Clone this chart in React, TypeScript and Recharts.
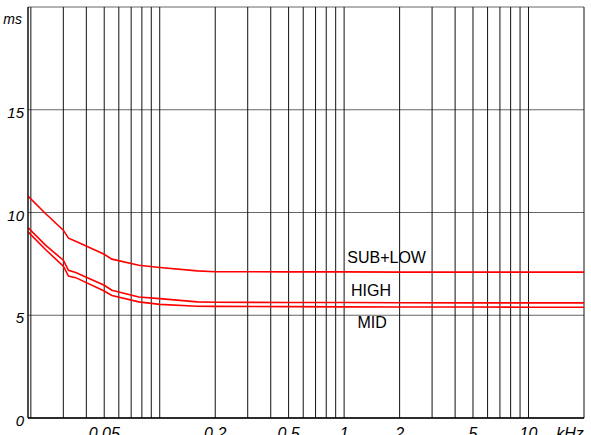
import { LineChart, Line, XAxis, YAxis, CartesianGrid, ReferenceDot } from 'recharts'

// frequency in kHz, delay in ms
const FREQ = [0.0193, 0.024, 0.03, 0.032, 0.035, 0.05, 0.055, 0.077, 0.1, 0.16, 0.2, 0.5, 1, 2, 5, 10, 20]
const SUB_LOW = [10.8, 9.95, 9.14, 8.75, 8.6, 7.97, 7.73, 7.43, 7.32, 7.16, 7.12, 7.11, 7.11, 7.1, 7.1, 7.1, 7.1]
const HIGH = [9.27, 8.41, 7.68, 7.19, 7.08, 6.46, 6.22, 5.89, 5.81, 5.65, 5.63, 5.62, 5.62, 5.61, 5.6, 5.6, 5.6]
const MID = [9.06, 8.2, 7.39, 6.91, 6.83, 6.18, 5.96, 5.65, 5.53, 5.44, 5.43, 5.42, 5.41, 5.4, 5.4, 5.39, 5.39]

const X_GRID = [
  0.02, 0.03, 0.04, 0.05, 0.06, 0.07, 0.08, 0.09,
  0.1, 0.2, 0.3, 0.4, 0.5, 0.6, 0.7, 0.8, 0.9,
  1, 2, 3, 4, 5, 6, 7, 8, 9,
  10, 20,
]
const X_LABELS: Record<string, string> = {
  '0.05': '0.05', '0.2': '0.2', '0.5': '0.5', '1': '1', '2': '2', '5': '5', '10': '10', '20': 'kHz',
}
const Y_TICKS = [0, 5, 10, 15, 20]
const Y_LABELS: Record<string, string> = { '0': '0', '5': '5', '10': '10', '15': '15', '20': 'ms' }

// curve names placed in the chart [label, kHz, ms]
const NAMES: [string, number, number][] = [
  ['SUB+LOW', 1.7, 7.53],
  ['HIGH', 1.4, 5.92],
  ['MID', 1.42, 4.37],
]

const data = FREQ.map((f, i) => ({ f, sub: SUB_LOW[i], high: HIGH[i], mid: MID[i] }))

const FONT = '"Liberation Sans", Arial, sans-serif'

function XTick({ x, y, payload }: any) {
  const label = X_LABELS[String(payload.value)]
  if (!label) return null
  const isUnit = label === 'kHz'
  return (
    <text x={isUnit ? x - 14 : x} y={y + 21} textAnchor="middle" fontSize={16} fontStyle="italic" fontFamily={FONT} fill="#000">
      {label}
    </text>
  )
}

function YTick({ x, y, payload }: any) {
  const label = Y_LABELS[String(payload.value)]
  const isUnit = label === 'ms'
  return (
    <text x={isUnit ? x - 6 : x - 4} y={isUnit ? y + 17 : y + 8} textAnchor="end" fontSize={isUnit ? 14 : 15} fontStyle="italic" fontFamily={FONT} fill="#000">
      {label}
    </text>
  )
}

export default function App() {
  return (
    <div style={{ position: 'absolute', left: 0, top: 0, background: '#fff' }}>
      <LineChart width={591} height={435} data={data} margin={{ top: 7, right: 7, left: 0, bottom: 0 }}>
        <CartesianGrid vertical={false} stroke="#666" strokeWidth={1} />
        <CartesianGrid horizontal={false} stroke="#111" strokeWidth={1} verticalPoints={undefined} />
        <XAxis
          dataKey="f"
          type="number"
          scale="log"
          domain={[0.0193, 20]}
          allowDataOverflow
          ticks={X_GRID}
          interval={0}
          height={17}
          tickSize={0}
          tickMargin={0}
          tick={<XTick />}
          axisLine={{ stroke: '#000', strokeWidth: 1.5 }}
          tickLine={false}
        />
        <YAxis
          type="number"
          domain={[0, 20]}
          ticks={Y_TICKS}
          interval={0}
          width={28}
          tickSize={0}
          tickMargin={0}
          tick={<YTick />}
          axisLine={{ stroke: '#111', strokeWidth: 1 }}
          tickLine={false}
        />
        <Line type="linear" dataKey="sub" stroke="#ff0000" strokeWidth={1.6} dot={false} isAnimationActive={false} />
        <Line type="linear" dataKey="high" stroke="#ff0000" strokeWidth={1.6} dot={false} isAnimationActive={false} />
        <Line type="linear" dataKey="mid" stroke="#ff0000" strokeWidth={1.6} dot={false} isAnimationActive={false} />
        {NAMES.map(([name, f, v]) => (
          <ReferenceDot
            key={name}
            x={f}
            y={v}
            r={0}
            shape={(p: any) => (
              <text x={p.cx} y={p.cy} textAnchor="middle" fontSize={16} fontFamily={FONT} fill="#000">
                {name}
              </text>
            )}
          />
        ))}
      </LineChart>
    </div>
  )
}
